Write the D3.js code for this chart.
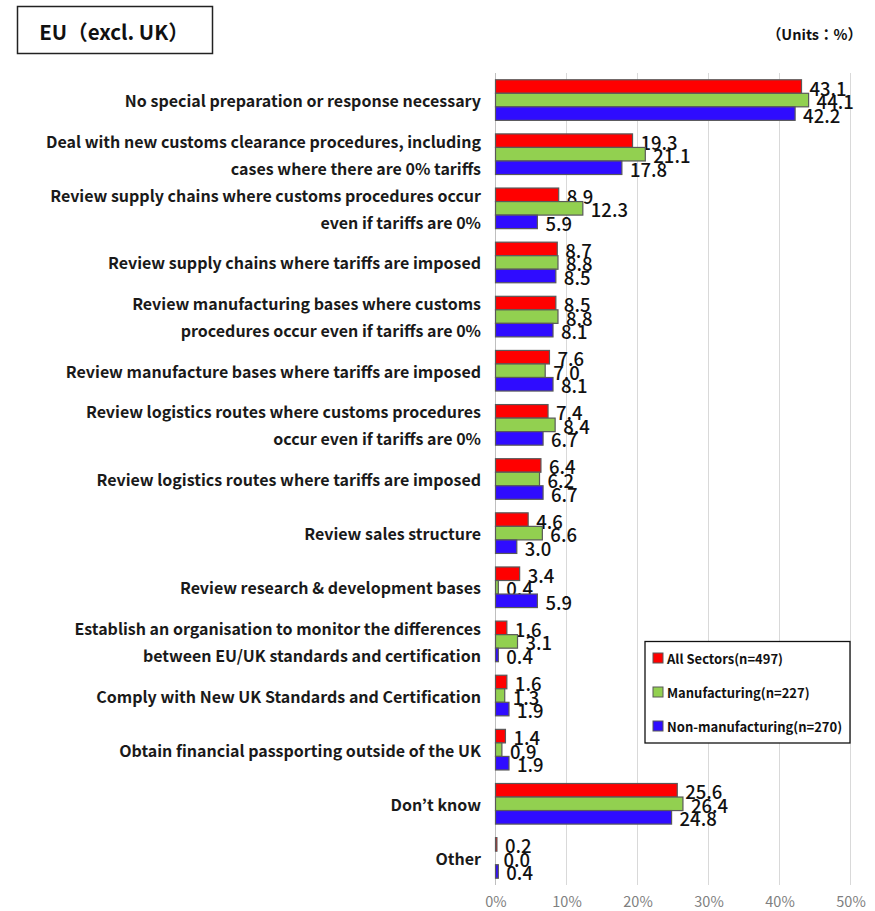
<!DOCTYPE html>
<html>
<head>
<meta charset="utf-8">
<script src="https://cdn.jsdelivr.net/npm/d3@7"></script>
<style>
  html, body { margin: 0; padding: 0; background: #fff; }
  svg { display: block; font-family: "Noto Sans CJK JP", "Noto Sans", sans-serif; }
</style>
</head>
<body>
<svg id="chart" width="875" height="911"></svg>
<script>
// Response categories (line breaks mark wrapped labels)
const categories = [
  "No special preparation or response necessary",
  "Deal with new customs clearance procedures, including\ncases where there are 0% tariffs",
  "Review supply chains where customs procedures occur\neven if tariffs are 0%",
  "Review supply chains where tariffs are imposed",
  "Review manufacturing bases where customs\nprocedures occur even if tariffs are 0%",
  "Review manufacture bases where tariffs are imposed",
  "Review logistics routes where customs procedures\noccur even if tariffs are 0%",
  "Review logistics routes where tariffs are imposed",
  "Review sales structure",
  "Review research & development bases",
  "Establish an organisation to monitor the differences\nbetween EU/UK standards and certification",
  "Comply with New UK Standards and Certification",
  "Obtain financial passporting outside of the UK",
  "Don\u2019t know",
  "Other"
];

const seriesNames = ["All Sectors(n=497)", "Manufacturing(n=227)", "Non-manufacturing(n=270)"];
const allSectors      = [43.1, 19.3, 8.9, 8.7, 8.5, 7.6, 7.4, 6.4, 4.6, 3.4, 1.6, 1.6, 1.4, 25.6, 0.2];
const manufacturing   = [44.1, 21.1, 12.3, 8.8, 8.8, 7.0, 8.4, 6.2, 6.6, 0.4, 3.1, 1.3, 0.9, 26.4, 0.0];
const nonManufacturing = [42.2, 17.8, 5.9, 8.5, 8.1, 8.1, 6.7, 6.7, 3.0, 5.9, 0.4, 1.9, 1.9, 24.8, 0.4];
const seriesColors = ["#ff0000", "#92d050", "#2f0cff"];
const xTicks = [0, 10, 20, 30, 40, 50];

const titleText = "EU\uff08excl. UK\uff09";
const unitsText = "\uff08Units\uff1a%\uff09";

const series = [allSectors, manufacturing, nonManufacturing];

const svg = d3.select("#chart");
const plot = { left: 495.5, right: 850.5, top: 73, bottom: 885 };

const x = d3.scaleLinear().domain([0, 50]).range([plot.left, plot.right]);
const y = d3.scaleBand().domain(d3.range(categories.length))
  .range([plot.top, plot.bottom]).paddingInner(0.25).paddingOuter(0.125);
const ySub = d3.scaleBand().domain(d3.range(series.length)).range([0, y.bandwidth()]);

// Title box and units note
svg.append("rect").attr("x", 17.5).attr("y", 6.5).attr("width", 195).attr("height", 47)
  .attr("fill", "#fff").attr("stroke", "#222").attr("stroke-width", 1.5);
svg.append("text").attr("x", 114).attr("y", 31).attr("text-anchor", "middle")
  .attr("dominant-baseline", "central").attr("font-size", 20.5).attr("font-weight", 700)
  .attr("fill", "#111").text(titleText);
svg.append("text").attr("x", 862).attr("y", 33).attr("text-anchor", "end")
  .attr("dominant-baseline", "central").attr("font-size", 14.5).attr("font-weight", 700)
  .attr("fill", "#111").text(unitsText);

// Vertical gridlines
svg.append("g").selectAll("line").data(xTicks).join("line")
  .attr("x1", d => x(d)).attr("x2", d => x(d))
  .attr("y1", plot.top).attr("y2", plot.bottom)
  .attr("stroke", d => d === 0 ? "#bfbfbf" : "#d9d9d9").attr("stroke-width", 1);

// Axis tick labels
const xAxis = d3.axisBottom(x).tickValues(xTicks).tickFormat(d => d + "%").tickSize(0).tickPadding(0);
const gx = svg.append("g").attr("transform", `translate(0,${plot.bottom + 12})`).call(xAxis);
gx.select(".domain").remove();
gx.selectAll("text").attr("font-size", 14.5).attr("fill", "#7f7f7f")
  .attr("font-family", "\"Noto Sans CJK JP\", sans-serif");

// Bars
const groups = svg.append("g").selectAll("g").data(categories).join("g")
  .attr("transform", (d, i) => `translate(0,${y(i)})`);

groups.each(function(cat, i) {
  const g = d3.select(this);
  series.forEach((s, k) => {
    const v = s[i];
    g.append("rect")
      .attr("x", x(0)).attr("y", ySub(k))
      .attr("width", Math.max(0, x(v) - x(0))).attr("height", ySub.bandwidth())
      .attr("fill", seriesColors[k]).attr("stroke", "#595959").attr("stroke-width", 1.2);
    g.append("text")
      .attr("x", x(v) + 8).attr("y", ySub(k) + ySub.bandwidth() / 2 + 1)
      .attr("dominant-baseline", "central").attr("font-size", 18.5).attr("font-weight", 500)
      .attr("fill", "#111").text(v.toFixed(1));
  });
});

// Category labels
const lineH = 27;
groups.each(function(cat) {
  const lines = cat.split("\n");
  const t = d3.select(this).append("text")
    .attr("text-anchor", "end").attr("font-size", 16).attr("font-weight", 700)
    .attr("fill", "#1a1a1a");
  lines.forEach((ln, j) => {
    t.append("tspan").attr("x", 481)
      .attr("y", y.bandwidth() / 2 + (j - (lines.length - 1) / 2) * lineH)
      .attr("dominant-baseline", "central").text(ln);
  });
});

// Legend
const legend = svg.append("g");
legend.append("rect").attr("x", 645).attr("y", 641.5).attr("width", 205).attr("height", 101.5)
  .attr("fill", "#fff").attr("stroke", "#111").attr("stroke-width", 1.3);
seriesNames.forEach((name, k) => {
  const cy = 658 + k * 34;
  legend.append("rect").attr("x", 653).attr("y", cy - 5).attr("width", 10).attr("height", 10)
    .attr("fill", seriesColors[k]).attr("stroke", "#595959").attr("stroke-width", 1);
  legend.append("text").attr("x", 667).attr("y", cy).attr("dominant-baseline", "central")
    .attr("font-size", 13).attr("font-weight", 700).attr("fill", "#111").text(name);
});
</script>
</body>
</html>
